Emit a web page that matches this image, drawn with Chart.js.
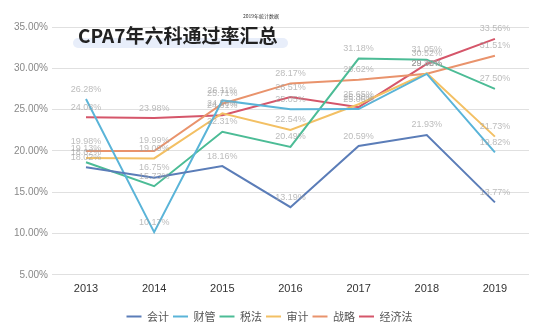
<!DOCTYPE html>
<html>
<head>
<meta charset="utf-8">
<script src="https://cdn.jsdelivr.net/npm/chart.js"></script>
<style>
  html, body { margin: 0; padding: 0; background: #fff; }
  #wrap { position: relative; width: 550px; height: 332px; }
  #title {
    position: absolute; left: 78px; top: 24px;
    font-family: "Noto Sans CJK SC", sans-serif; font-weight: bold;
    font-size: 19px; line-height: 22px; color: #222; z-index: 2;
  }
  #hl {
    position: absolute; left: 73px; top: 38px; width: 215px; height: 10px;
    background: #e8eefa; border-radius: 5px; z-index: 1;
  }
  #sub {
    position: absolute; left: 243px; top: 12px;
    font-family: "Noto Sans CJK SC", sans-serif; font-size: 5px; color: #333; z-index: 2;
  }
</style>
</head>
<body>
<div id="wrap">
  <canvas id="chartLine" width="550" height="332"></canvas>
  <div id="hl"></div>
  <div id="title">CPA7年六科通过率汇总</div>
  <div id="sub">2019年统计数据</div>
</div>
<script>
const years = ["2013", "2014", "2015", "2016", "2017", "2018", "2019"];
const kuaiji   = [18.02, 16.75, 18.16, 13.19, 20.59, 21.93, 13.77];
const caiguan  = [26.28, 10.17, 26.11, 25.05, 25.06, 29.32, 19.82];
const shuifa   = [18.62, 15.73, 22.31, 20.49, 31.18, 31.05, 27.50];
const shenji   = [19.13, 19.09, 24.56, 22.54, 25.65, 29.40, 21.73];
const zhanlue  = [19.98, 19.99, 25.71, 28.17, 28.62, 29.35, 31.51];
const jingjifa = [24.08, 23.98, 24.31, 26.51, 25.30, 30.52, 33.56];

function line(label, values, color) {
  return {
    label: label,
    data: values,
    borderColor: color,
    backgroundColor: color,
    borderWidth: 2,
    pointRadius: 0,
    tension: 0
  };
}

// little grey value labels above every point
const valueLabels = {
  id: "valueLabels",
  afterDatasetsDraw(chart) {
    const ctx = chart.ctx;
    ctx.save();
    ctx.font = "9px 'Liberation Sans', Arial, sans-serif";
    ctx.fillStyle = "rgba(160,160,160,0.7)";
    ctx.textAlign = "center";
    ctx.textBaseline = "middle";
    chart.data.datasets.forEach((ds, i) => {
      chart.getDatasetMeta(i).data.forEach((pt, j) => {
        ctx.fillText(ds.data[j].toFixed(2) + "%", pt.x, pt.y - 10);
      });
    });
    ctx.restore();
  }
};

new Chart(document.getElementById("chartLine"), {
  type: "line",
  data: {
    labels: years,
    datasets: [
      line("会计", kuaiji, "#5b7db8"),
      line("财管", caiguan, "#5ab4d8"),
      line("税法", shuifa, "#4cbc96"),
      line("审计", shenji, "#f3c064"),
      line("战略", zhanlue, "#e9936c"),
      line("经济法", jingjifa, "#d5566a")
    ]
  },
  options: {
    responsive: false,
    animation: false,
    layout: { padding: { left: 10, right: 21, top: 27, bottom: 0 } },
    scales: {
      x: {
        offset: true,
        grid: { display: false },
        border: { display: false },
        ticks: { color: "#333", font: { size: 11, family: "'Liberation Sans', Arial, sans-serif" }, padding: 0 },
        afterFit(s) { s.height += 11; }
      },
      y: {
        min: 5, max: 35,
        grid: { color: "#e0e0e0", drawTicks: false },
        border: { display: false },
        ticks: {
          stepSize: 5,
          padding: 4,
          color: "#888",
          font: { size: 10, family: "'Liberation Sans', Arial, sans-serif" },
          callback: v => v.toFixed(2) + "%"
        }
      }
    },
    plugins: {
      legend: {
        position: "bottom",
        labels: {
          usePointStyle: true,
          pointStyle: "line",
          pointStyleWidth: 15,
          boxHeight: 2,
          color: "#555",
          padding: 4,
          font: { size: 11, family: "'Noto Sans CJK SC', sans-serif" }
        }
      },
      tooltip: { enabled: false }
    }
  },
  plugins: [valueLabels]
});
</script>
</body>
</html>
